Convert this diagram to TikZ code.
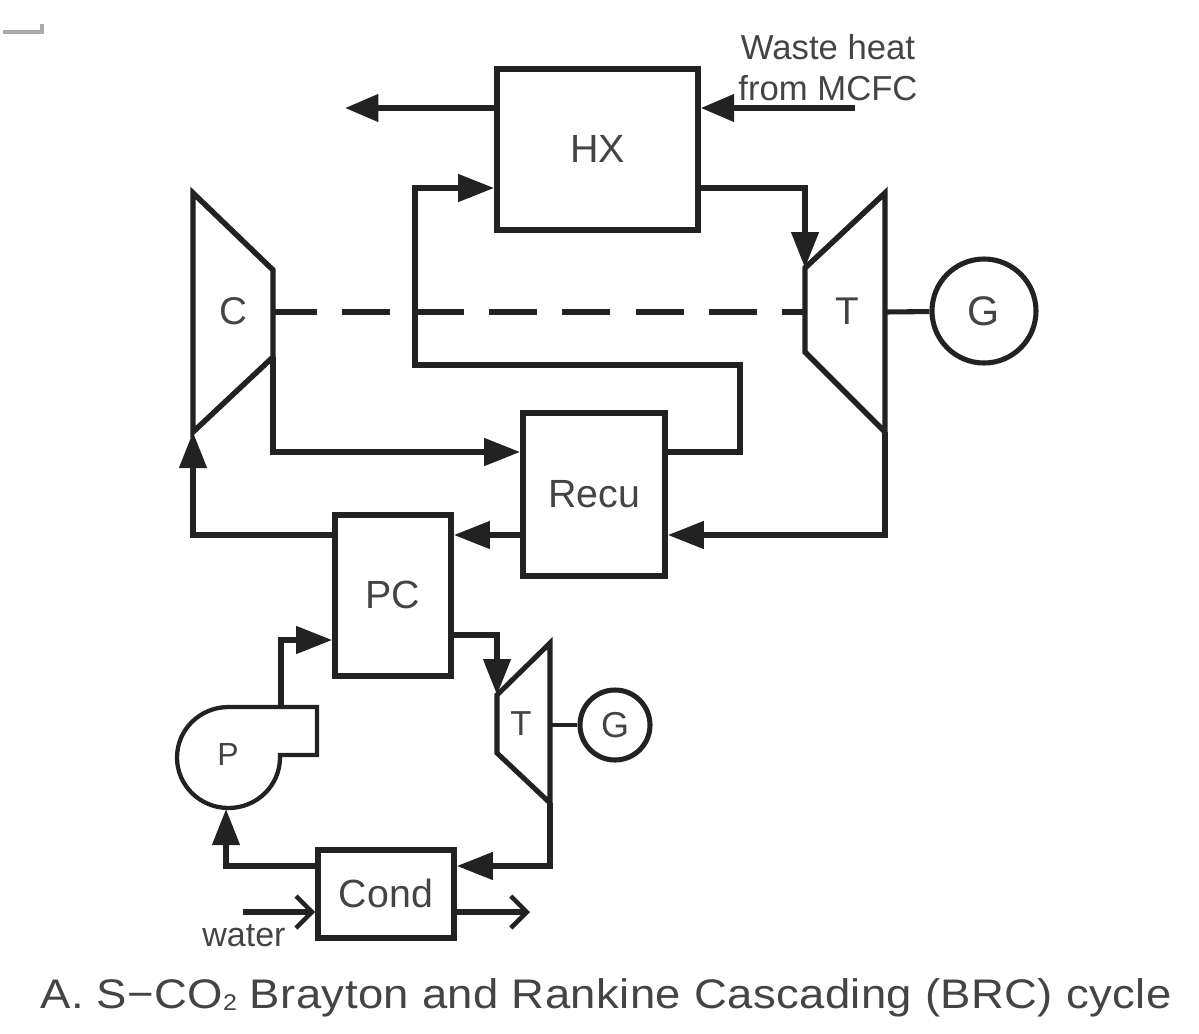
\documentclass[tikz,border=0pt]{standalone}
\usepackage{fontspec}
\setmainfont{Liberation Sans}
\usetikzlibrary{arrows.meta}
\definecolor{ink}{HTML}{222222}
\definecolor{txt}{HTML}{444444}
\tikzset{
  x=0.75pt,y=-0.75pt,
  pipe/.style={draw=ink,line width=4.1pt,line join=miter},
  flow/.style={pipe,-{Triangle[length=27pt,width=20pt,sep=0pt]}},
  vent/.style={pipe,-{Straight Barb[length=12pt,width=24pt,line width=3.4pt]}},
  unit/.style={draw=ink,line width=4.2pt,fill=white,inner sep=0pt,text=txt,font=\fontsize{29.5pt}{32pt}\selectfont},
  gen/.style={draw=ink,line width=3.8pt,circle,inner sep=0pt,text=txt},
  lbl/.style={inner sep=0pt,text=txt},
}
\begin{document}
\begin{tikzpicture}
\useasboundingbox (0,0) rectangle (1199,1033);
% stray mark top left
\draw[line width=2.4pt,color=black!33] (3,32) -- (42,32) -- (42,24);
% boxes
\node[unit,minimum width=150.75pt,minimum height=120.75pt] (hx) at (597.5,149.5) {\raisebox{1pt}{HX}};
\node[unit,minimum width=106.5pt,minimum height=122.25pt] (recu) at (594,494.5) {Recu};
\node[unit,minimum width=87pt,minimum height=120.75pt] (pc) at (393,595.5) {\raisebox{1.5pt}{PC}};
\node[unit,minimum width=102pt,minimum height=66pt] (cond) at (386,894) {\raisebox{1pt}{Cond}};
% generators
\node[gen,minimum size=78pt,font=\fontsize{31pt}{34pt}\selectfont] (g1) at (984,311) {G};
\node[gen,minimum size=52.5pt,font=\fontsize{27pt}{30pt}\selectfont] (g2) at (615,725) {G};
% named corner points
\coordinate (cA) at (193,193);
\coordinate (cB) at (273,270);
\coordinate (cC) at (273,357);
\coordinate (cD) at (193,432);
\coordinate (tA) at (885,193);
\coordinate (tB) at (805,268);
\coordinate (tC) at (805,352);
\coordinate (tD) at (885,432);
\coordinate (sA) at (550,643);
\coordinate (sB) at (497,695);
\coordinate (sC) at (497,753);
\coordinate (sD) at (550,803);
% machines
\draw[pipe] (cA) -- (cB) -- (cC) -- (cD) -- cycle;
\draw[pipe] (tA) -- (tB) -- (tC) -- (tD) -- cycle;
\draw[pipe,line width=3.8pt] (sA) -- (sB) -- (sC) -- (sD) -- cycle;
\node[lbl,font=\fontsize{29pt}{32pt}\selectfont] (cl) at (233,311) {C};
\node[lbl,font=\fontsize{29pt}{32pt}\selectfont] (tl) at (847,311) {T};
\node[lbl,font=\fontsize{26pt}{29pt}\selectfont] (sl) at (521,724) {T};
% pump
\draw[draw=ink,line width=3.2pt] (228.5,707) -- (317,707) -- (317,755) -- (280,755) -- (280,757.5)
  arc[start angle=0,end angle=270,x radius=51.5,y radius=50.5];
\coordinate (pTop) at (281,707);
\coordinate (pBot) at (226,809);
\node[lbl,font=\fontsize{24pt}{27pt}\selectfont] (pl) at (228,754) {P};
% shaft
\coordinate (sh1) at (273,312);
\coordinate (sh2) at (805,312);
\coordinate (sh3) at (885,312);
\draw[pipe,line width=4.4pt,dash pattern=on 36pt off 19pt,dash phase=3pt] (sh1) -- (sh2);
\draw[pipe,line width=3.8pt] (sh3) -- (g1);
\coordinate (sh4) at (550,725);
\draw[pipe,line width=3.2pt] (sh4) -- (g2);
% flows
\coordinate (wh) at (855,108);
\coordinate (hxout) at (345,108);
\draw[flow,-{Triangle[length=25pt,width=20pt]}] (wh) -- (wh -| hx.east);
\draw[flow,-{Triangle[length=25pt,width=20pt]}] (hxout -| hx.west) -- (hxout);
\coordinate (y1) at (0,188);
\draw[flow] (y1 -| hx.east) -| (tB);
\coordinate (rx) at (740,452);
\coordinate (rt) at (415,365);
\draw[flow] (rx -| recu.east) -- (rx) |- (rt) |- (y1 -| hx.west);
\draw[flow] (cC) |- (rx -| recu.west);
\coordinate (y2) at (0,535);
\draw[flow] (tD) |- (y2 -| recu.east);
\draw[flow] (y2 -| recu.west) -- (y2 -| pc.east);
\draw[flow] (y2 -| pc.west) -| (cD);
\coordinate (y3) at (0,635);
\draw[flow] (y3 -| pc.east) -| (sB);
\coordinate (y4) at (0,640);
\draw[flow] (pTop) |- (y4 -| pc.west);
\coordinate (y5) at (0,866);
\draw[flow] (sD) |- (y5 -| cond.east);
\draw[flow] (y5 -| cond.west) -| (pBot);
\coordinate (wi) at (243,912);
\coordinate (wo) at (530,912);
\draw[vent] (wi) -- (wi -| cond.west);
\draw[vent] (wo -| cond.east) -- (wo);
% labels
\node[lbl,font=\fontsize{26pt}{29pt}\selectfont] (w1) at (828,47) {Waste heat};
\node[lbl,font=\fontsize{26pt}{29pt}\selectfont] (w2) at (828,88) {from MCFC};
\node[lbl,font=\fontsize{25.5pt}{28pt}\selectfont] (wl) at (244,936) {water};
\node[lbl,anchor=west,font=\fontsize{31pt}{34pt}\selectfont\addfontfeature{FakeStretch=1.1,LetterSpace=1}] (cap) at (40,998) {A. S−CO\raisebox{-1pt}{\fontsize{17pt}{18pt}\selectfont 2} Brayton and Rankine Cascading (BRC) cycle};
\end{tikzpicture}
\end{document}
